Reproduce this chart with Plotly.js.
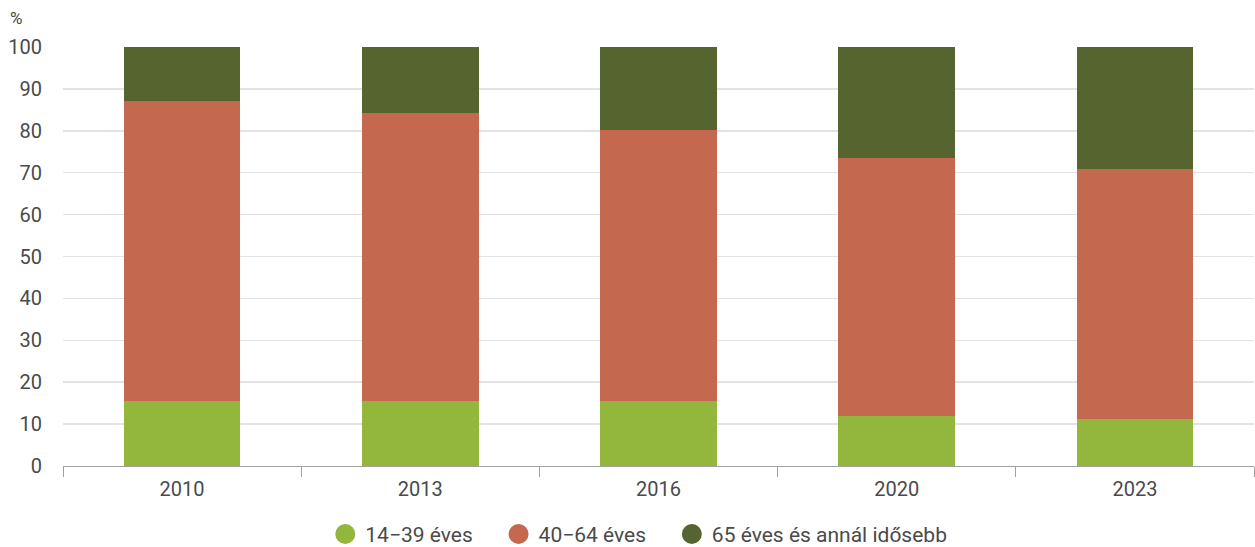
<!DOCTYPE html>
<html>
<head>
<meta charset="utf-8">
<script src="https://cdn.plot.ly/plotly-3.0.1.min.js"></script>
<style>html,body{margin:0;padding:0;background:#fff;}#chart{width:1255px;height:547px;}</style>
</head>
<body>
<div id="chart"></div>
<script>
const years = ['2010', '2013', '2016', '2020', '2023'];
const seriesNames = ['14−39 éves', '40−64 éves', '65 éves és annál idősebb'];
const young = [15.5, 15.5, 15.5, 11.9, 11.1];
const middle = [71.6, 68.8, 64.7, 61.5, 59.8];
const old = [12.9, 15.7, 19.8, 26.6, 29.1];
const yTicks = [0, 10, 20, 30, 40, 50, 60, 70, 80, 90, 100];

const colors = ['#93b73c', '#c46850', '#566430'];
const values = [young, middle, old];
const pad = '\u00a0\u00a0\u00a0\u00a0';

const traces = [];
values.forEach((v, i) => {
  traces.push({
    type: 'bar', x: years, y: v, name: seriesNames[i],
    marker: {color: colors[i], line: {width: 0}},
    showlegend: false, hoverinfo: 'x+y+name'
  });
});
values.forEach((v, i) => {
  traces.push({
    type: 'scatter', mode: 'markers', x: [null], y: [null],
    name: seriesNames[i] + (i < values.length - 1 ? pad : ''),
    marker: {color: colors[i], size: 16, symbol: 'circle', line: {width: 4, color: colors[i]}},
    showlegend: true, hoverinfo: 'skip'
  });
});

const tickFont = {family: 'Roboto, sans-serif', size: 20, color: '#4a4a4a'};
const legendFont = {family: 'Roboto, sans-serif', size: 21, color: '#4a4a4a'};

const layout = {
  width: 1255, height: 547,
  margin: {l: 63, r: 1, t: 47, b: 81, autoexpand: false},
  barmode: 'stack',
  bargap: 0.51,
  paper_bgcolor: '#ffffff', plot_bgcolor: '#ffffff',
  font: tickFont,
  xaxis: {
    type: 'category', tickson: 'boundaries', ticks: 'outside', ticklen: 10,
    tickcolor: '#a0a0a0', showline: true, linecolor: '#a0a0a0', linewidth: 1,
    showgrid: false, tickfont: tickFont, ticklabelstandoff: 5, fixedrange: true
  },
  yaxis: {
    range: [0, 100], tickvals: yTicks, ticktext: yTicks.map(String),
    showgrid: true, gridcolor: '#e3e3e3', gridwidth: 1.5, zeroline: false,
    ticks: '', tickfont: tickFont, ticklabelstandoff: 20, fixedrange: true
  },
  legend: {
    orientation: 'h', xref: 'container', x: 0.509, xanchor: 'center',
    yref: 'paper', y: -0.163, yanchor: 'middle',
    font: legendFont, itemsizing: 'trace', traceorder: 'normal'
  },
  annotations: [{
    text: '%', xref: 'paper', yref: 'paper', x: -0.046, y: 1.04,
    xanchor: 'left', yanchor: 'bottom', showarrow: false,
    font: {family: 'Roboto, sans-serif', size: 17, color: '#4a4a4a'}
  }]
};

Plotly.newPlot('chart', traces, layout, {displayModeBar: false, staticPlot: true});
</script>
</body>
</html>
